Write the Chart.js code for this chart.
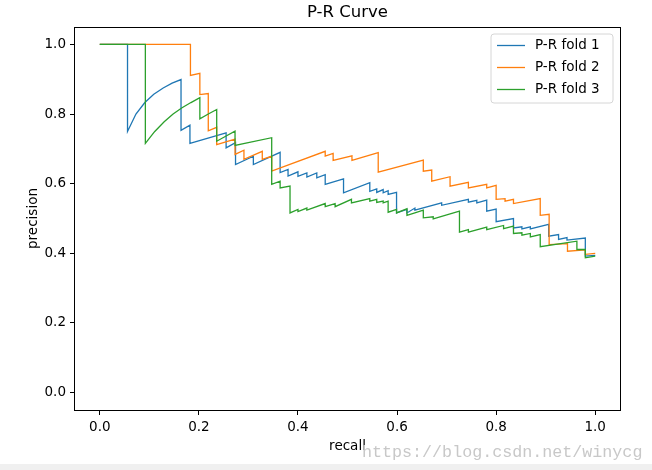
<!DOCTYPE html>
<html>
<head>
<meta charset="utf-8">
<script src="https://cdn.jsdelivr.net/npm/chart.js@4/dist/chart.umd.min.js"></script>
<style>
html,body{margin:0;padding:0;background:#fff;}
#c{display:block;}
</style>
</head>
<body>
<canvas id="c" width="652" height="470"></canvas>
<script>
const seriesNames = ["P-R fold 1", "P-R fold 2", "P-R fold 3"];
const xTicks = [0.0, 0.2, 0.4, 0.6, 0.8, 1.0];
const yTicks = [0.0, 0.2, 0.4, 0.6, 0.8, 1.0];

const recall1 = [0,0.056,0.056,0.073,0.091,0.109,0.128,0.146,0.164,0.164,0.182,0.182,0.255,0.255,0.274,0.274,0.310,0.310,0.364,0.364,0.380,0.380,0.400,0.400,0.418,0.418,0.438,0.438,0.455,0.455,0.492,0.492,0.545,0.545,0.559,0.559,0.572,0.572,0.582,0.582,0.599,0.599,0.620,0.620,0.636,0.636,0.690,0.690,0.744,0.744,0.761,0.761,0.781,0.781,0.800,0.800,0.835,0.835,0.852,0.852,0.869,0.869,0.906,0.906,0.926,0.926,0.943,0.943,0.980,0.980,1.000];
const precision1 = [1,1,0.750,0.800,0.833,0.857,0.875,0.889,0.899,0.753,0.768,0.716,0.746,0.703,0.718,0.655,0.679,0.655,0.690,0.632,0.641,0.622,0.634,0.621,0.631,0.619,0.631,0.617,0.626,0.598,0.614,0.574,0.603,0.578,0.585,0.575,0.583,0.574,0.580,0.569,0.575,0.516,0.526,0.516,0.530,0.524,0.545,0.538,0.555,0.547,0.552,0.545,0.553,0.521,0.527,0.491,0.500,0.473,0.476,0.470,0.476,0.470,0.483,0.449,0.454,0.440,0.445,0.438,0.444,0.392,0.394];

const recall2 = [0,0.183,0.183,0.202,0.202,0.219,0.219,0.236,0.236,0.273,0.273,0.291,0.291,0.328,0.328,0.347,0.347,0.455,0.455,0.471,0.471,0.509,0.509,0.562,0.562,0.653,0.653,0.670,0.670,0.707,0.707,0.744,0.744,0.781,0.781,0.800,0.800,0.818,0.818,0.835,0.835,0.889,0.889,0.907,0.907,0.944,0.944,0.980,0.980,1.000];
const precision2 = [1,1,0.911,0.917,0.856,0.859,0.752,0.762,0.712,0.728,0.684,0.696,0.670,0.693,0.670,0.679,0.636,0.693,0.679,0.687,0.667,0.680,0.667,0.689,0.633,0.668,0.636,0.639,0.607,0.620,0.593,0.604,0.588,0.598,0.588,0.595,0.555,0.557,0.550,0.555,0.543,0.557,0.509,0.512,0.425,0.428,0.406,0.410,0.397,0.400];

const recall3 = [0,0.092,0.092,0.111,0.130,0.148,0.166,0.184,0.202,0.202,0.219,0.236,0.236,0.255,0.273,0.273,0.347,0.347,0.364,0.364,0.384,0.384,0.400,0.400,0.418,0.418,0.455,0.455,0.475,0.475,0.508,0.508,0.545,0.545,0.559,0.559,0.572,0.572,0.582,0.582,0.599,0.599,0.620,0.620,0.636,0.653,0.653,0.673,0.673,0.726,0.726,0.744,0.744,0.781,0.781,0.815,0.815,0.835,0.835,0.852,0.852,0.869,0.869,0.889,0.889,0.963,0.963,0.980,0.980,1.000];
const precision3 = [1,1,0.716,0.750,0.778,0.800,0.818,0.833,0.847,0.786,0.800,0.813,0.722,0.737,0.751,0.710,0.732,0.598,0.607,0.588,0.593,0.516,0.526,0.520,0.530,0.524,0.543,0.534,0.543,0.534,0.555,0.545,0.557,0.550,0.555,0.546,0.550,0.545,0.550,0.518,0.526,0.516,0.528,0.509,0.516,0.524,0.502,0.505,0.499,0.521,0.461,0.468,0.461,0.475,0.468,0.480,0.471,0.478,0.457,0.459,0.452,0.457,0.447,0.454,0.419,0.435,0.411,0.411,0.387,0.392];

const colors = ["#1f77b4", "#ff7f0e", "#2ca02c"];
const FONT = "'DejaVu Sans', sans-serif";

function pts(xs, ys) { return xs.map((x, i) => ({ x: x, y: ys[i] })); }

const decor = {
  id: 'decor',
  beforeDraw(chart) {
    const ctx = chart.ctx;
    ctx.save();
    ctx.fillStyle = '#ffffff';
    ctx.fillRect(0, 0, chart.width, chart.height);
    ctx.fillStyle = '#f0f0f0';
    ctx.fillRect(0, 464, chart.width, chart.height - 464);
    ctx.restore();
  },
  afterDraw(chart) {
    const ctx = chart.ctx;
    const ca = chart.chartArea;
    ctx.save();
    // box
    ctx.strokeStyle = '#000';
    ctx.lineWidth = 1;
    ctx.strokeRect(Math.round(ca.left) - 0.5, Math.round(ca.top) + 0.5, Math.round(ca.right - ca.left) + 1, Math.round(ca.bottom - ca.top));
    // title
    ctx.fillStyle = '#000';
    ctx.textAlign = 'center';
    ctx.textBaseline = 'middle';
    ctx.font = '16.5px ' + FONT;
    ctx.fillText('P-R Curve', (ca.left + ca.right) / 2, 13);
    // axis labels
    ctx.font = '13.5px ' + FONT;
    ctx.fillText('recall', (ca.left + ca.right) / 2, 446);
    ctx.save();
    ctx.translate(33, (ca.top + ca.bottom) / 2);
    ctx.rotate(-Math.PI / 2);
    ctx.fillText('precision', 0, 0);
    ctx.restore();
    // legend
    const lx = 491, ly = 34, lw = 122, lh = 69, r = 3;
    ctx.beginPath();
    ctx.moveTo(lx + r, ly);
    ctx.arcTo(lx + lw, ly, lx + lw, ly + lh, r);
    ctx.arcTo(lx + lw, ly + lh, lx, ly + lh, r);
    ctx.arcTo(lx, ly + lh, lx, ly, r);
    ctx.arcTo(lx, ly, lx + lw, ly, r);
    ctx.closePath();
    ctx.fillStyle = 'rgba(255,255,255,0.8)';
    ctx.fill();
    ctx.strokeStyle = '#d6d6d6';
    ctx.lineWidth = 1;
    ctx.stroke();
    ctx.font = '13.5px ' + FONT;
    ctx.textAlign = 'left';
    ctx.textBaseline = 'middle';
    for (let i = 0; i < seriesNames.length; i++) {
      const yy = 45.5 + i * 22;
      ctx.strokeStyle = colors[i];
      ctx.lineWidth = 1.3;
      ctx.beginPath();
      ctx.moveTo(497, yy);
      ctx.lineTo(525, yy);
      ctx.stroke();
      ctx.fillStyle = '#000';
      ctx.fillText(seriesNames[i], 535, yy);
    }
    // watermark
    ctx.font = '16.7px "Liberation Mono", monospace';
    ctx.fillStyle = '#c8c8c8';
    ctx.textAlign = 'left';
    ctx.textBaseline = 'alphabetic';
    ctx.fillText('https://blog.csdn.net/winycg', 362, 457);
    ctx.restore();
  }
};

const tickOpts = (vals) => ({
  color: '#000',
  font: { family: FONT, size: 13.5 },
  padding: 4,
  callback: (v) => Number(v).toFixed(1)
});

new Chart(document.getElementById('c'), {
  type: 'scatter',
  data: {
    datasets: [
      { label: seriesNames[0], data: pts(recall1, precision1), borderColor: colors[0], order: 3 },
      { label: seriesNames[1], data: pts(recall2, precision2), borderColor: colors[1], order: 2 },
      { label: seriesNames[2], data: pts(recall3, precision3), borderColor: colors[2], order: 1 }
    ].map(d => Object.assign(d, { showLine: true, pointRadius: 0, borderWidth: 1.3, tension: 0, fill: false, backgroundColor: d.borderColor }))
  },
  options: {
    responsive: false,
    devicePixelRatio: 1,
    animation: false,
    events: [],
    layout: { padding: { left: 0, top: 27, right: 32, bottom: 0 } },
    plugins: { legend: { display: false }, tooltip: { enabled: false }, title: { display: false } },
    scales: {
      x: {
        type: 'linear', min: -0.05, max: 1.05,
        afterBuildTicks: (s) => { s.ticks = xTicks.map(v => ({ value: v })); },
        afterFit: (s) => { s.height = 60; },
        ticks: tickOpts(xTicks),
        grid: { display: true, drawOnChartArea: false, drawTicks: true, tickLength: 5, color: '#000' },
        border: { display: false }
      },
      y: {
        type: 'linear', min: -0.05, max: 1.05,
        afterBuildTicks: (s) => { s.ticks = yTicks.map(v => ({ value: v })); },
        afterFit: (s) => { s.width = 75; },
        ticks: tickOpts(yTicks),
        grid: { display: true, drawOnChartArea: false, drawTicks: true, tickLength: 5, color: '#000' },
        border: { display: false }
      }
    }
  },
  plugins: [decor]
});
</script>
</body>
</html>
